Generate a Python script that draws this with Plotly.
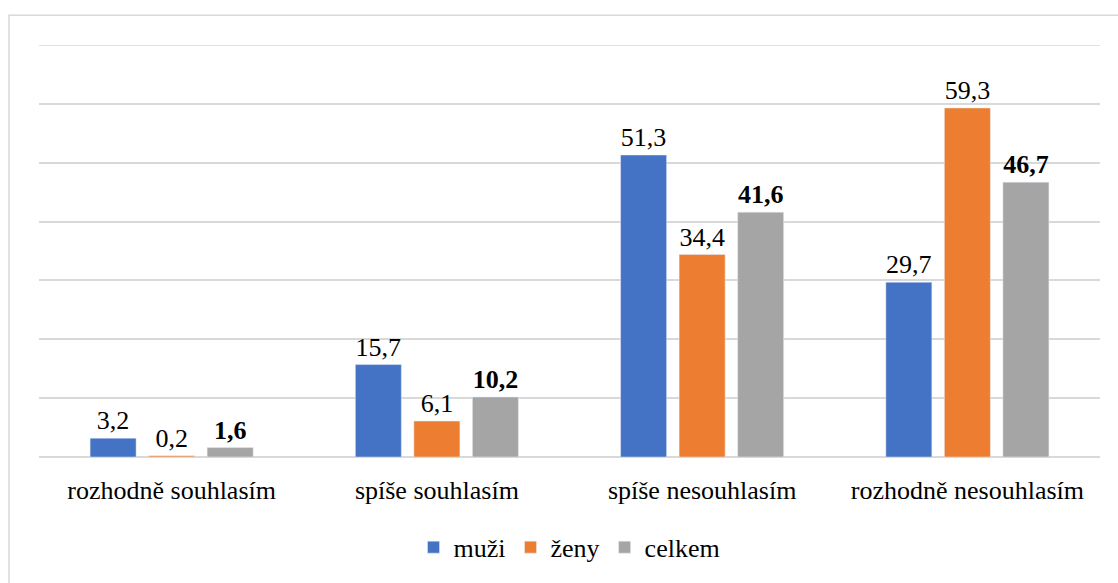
import plotly.graph_objects as go

categories = ["rozhodně souhlasím", "spíše souhlasím", "spíše nesouhlasím", "rozhodně nesouhlasím"]
muzi = [3.2, 15.7, 51.3, 29.7]
zeny = [0.2, 6.1, 34.4, 59.3]
celkem = [1.6, 10.2, 41.6, 46.7]

def fmt(v):
    return f"{v:.1f}".replace(".", ",")

font = "Times New Roman"
fs = 26

fig = go.Figure()
fig.add_bar(x=categories, y=muzi, name="muži", marker_color="#4472C4",
            text=[fmt(v) for v in muzi], textposition="outside",
            textfont=dict(size=fs, color="black", family=font), cliponaxis=False)
fig.add_bar(x=categories, y=zeny, name="ženy", marker_color="#ED7D31",
            text=[fmt(v) for v in zeny], textposition="outside",
            textfont=dict(size=fs, color="black", family=font), cliponaxis=False)
fig.add_bar(x=categories, y=celkem, name="celkem", marker_color="#A5A5A5",
            text=["<b>" + fmt(v) + "</b>" for v in celkem], textposition="outside",
            textfont=dict(size=fs, color="black", family=font), cliponaxis=False)

fig.update_layout(
    width=1118, height=583,
    margin=dict(l=39, r=18, t=45, b=123),
    paper_bgcolor="white", plot_bgcolor="white",
    barmode="group", bargap=0.338, bargroupgap=0.214,
    font=dict(family=font, size=fs, color="black"),
    showlegend=True,
    legend=dict(orientation="h", x=0.5, xanchor="center", y=-0.219, yanchor="middle",
                font=dict(size=fs, family=font), itemwidth=30),
    shapes=[
        dict(type="rect", xref="paper", yref="paper",
             x0=-0.0283, x1=1.05, y0=-0.35, y1=1.0723,
             line=dict(color="#D9D9D9", width=1.5), fillcolor="rgba(0,0,0,0)", layer="below"),
        dict(type="line", xref="paper", yref="y", x0=0, x1=1, y0=70, y1=70,
             line=dict(color="#D9D9D9", width=1.5), layer="below"),
    ],
)
fig.update_xaxes(showline=False, ticks="", tickfont=dict(size=fs, family=font, color="black"),
                 showgrid=False, ticklabelstandoff=15)
fig.update_yaxes(range=[0, 70], tickvals=[0, 10, 20, 30, 40, 50, 60, 70], showticklabels=False,
                 showgrid=True, gridcolor="#D9D9D9", gridwidth=1.5, zeroline=True,
                 zerolinecolor="#D9D9D9", zerolinewidth=1.5, ticks="")

fig.write_html("out.html", config={"displayModeBar": False},
               post_script="document.body.style.margin='0';document.body.style.padding='0';")
